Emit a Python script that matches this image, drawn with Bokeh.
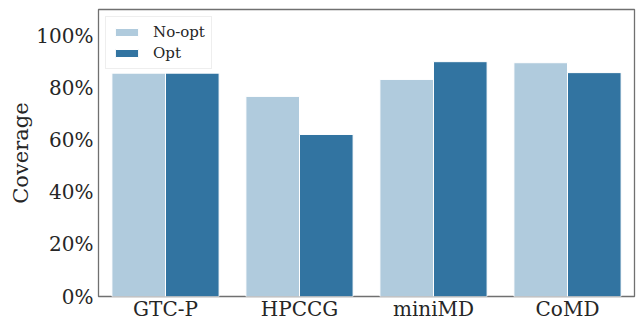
from bokeh.plotting import figure
from bokeh.models import FactorRange, Range1d, Legend, LegendItem, FixedTicker, PrintfTickFormatter, ColumnDataSource
from bokeh.transform import dodge
from bokeh.embed import file_html
from bokeh.resources import INLINE

categories = ["GTC-P", "HPCCG", "miniMD", "CoMD"]
no_opt = [85.6, 76.7, 83.2, 89.6]
opt = [85.6, 62.1, 90.0, 85.8]
series = ["No-opt", "Opt"]
colors = ["#b0cbdd", "#3274a1"]
y_ticks = [0, 20, 40, 60, 80, 100]

src = ColumnDataSource(dict(cat=categories, no_opt=no_opt, opt=opt))

FONT = "DejaVu Serif"
TXT = "#262626"

p = figure(x_range=FactorRange(*categories), y_range=Range1d(0, 110),
           width=636, height=323, output_backend="svg", toolbar_location=None,
           min_border_left=98, min_border_right=2, min_border_top=9, min_border_bottom=20)

r1 = p.vbar(x=dodge("cat", -0.2, range=p.x_range), top="no_opt", width=0.4, source=src,
            fill_color=colors[0], line_color="white", line_width=1)
r2 = p.vbar(x=dodge("cat", 0.2, range=p.x_range), top="opt", width=0.4, source=src,
            fill_color=colors[1], line_color="white", line_width=1)

p.xgrid.visible = False
p.ygrid.visible = False
p.outline_line_color = "#707070"
p.outline_line_width = 1.3
p.background_fill_color = "white"
p.border_fill_color = "white"

p.yaxis.ticker = FixedTicker(ticks=y_ticks)
p.yaxis.formatter = PrintfTickFormatter(format="%d%%")
p.yaxis.axis_label = "Coverage"
for ax in (p.xaxis[0], p.yaxis[0]):
    ax.axis_line_color = None
    ax.major_tick_line_color = None
    ax.minor_tick_line_color = None
    ax.major_tick_out = 0
    ax.major_tick_in = 0
    ax.minor_tick_out = 0
    ax.minor_tick_in = 0
    ax.major_label_text_font = FONT
    ax.major_label_text_font_size = "20px"
    ax.major_label_text_color = TXT
    ax.major_label_standoff = 5
    ax.axis_label_text_font = FONT
    ax.axis_label_text_font_size = "21px"
    ax.axis_label_text_font_style = "normal"
    ax.axis_label_text_color = TXT
    ax.axis_label_standoff = 0
p.xaxis.major_label_standoff = 0

legend = Legend(items=[LegendItem(label=series[0], renderers=[r1]),
                       LegendItem(label=series[1], renderers=[r2])],
                location="top_left", label_text_font=FONT, label_text_font_size="15px",
                label_text_color=TXT, glyph_width=29, glyph_height=10, label_height=16,
                label_standoff=12, spacing=3, padding=6, margin=7,
                border_line_color="#dddddd", border_line_width=1,
                background_fill_color="white", background_fill_alpha=0.8)
p.add_layout(legend)

open("out.html", "w").write(file_html(p, INLINE))
